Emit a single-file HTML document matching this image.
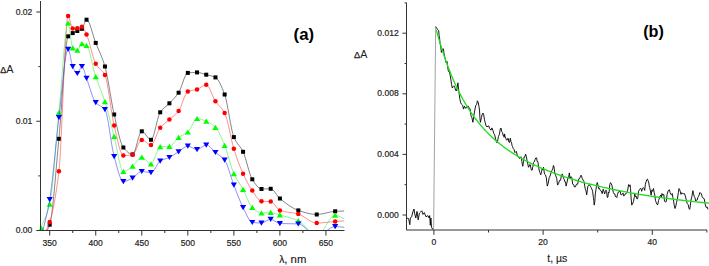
<!DOCTYPE html>
<html><head><meta charset="utf-8"><style>
html,body{margin:0;padding:0;background:#fff;}
body{width:709px;height:266px;overflow:hidden;font-family:"Liberation Sans",sans-serif;}
svg{display:block;}
</style></head><body>
<svg width="709" height="266" viewBox="0 0 709 266">
<defs><clipPath id="cl"><rect x="40.5" y="0" width="304" height="230.5"/></clipPath><clipPath id="cr"><rect x="406.5" y="0" width="303" height="230"/></clipPath></defs>
<path d="M40.49,240.00C43.56,234.90 46.63,233.36 49.70,224.70C52.77,216.04 55.84,169.96 58.91,138.80C61.98,107.64 65.05,39.96 68.12,36.30C69.65,34.47 71.19,33.95 72.72,33.10C74.25,32.25 75.79,31.72 77.32,31.00C78.86,30.28 80.39,29.98 81.93,28.80C83.46,27.62 85.00,19.70 86.53,19.70C89.60,19.70 92.67,35.10 95.74,42.90C98.81,50.70 101.88,55.95 104.95,66.50C108.02,77.05 111.09,101.46 114.16,114.50C117.23,127.54 120.29,143.70 123.36,147.50C126.43,151.30 129.50,154.40 132.57,154.40C135.64,154.40 138.71,131.30 141.78,131.30C144.85,131.30 147.92,139.80 150.99,139.80C154.06,139.80 157.13,116.82 160.20,112.30C163.27,107.78 166.33,106.54 169.40,103.30C172.47,100.06 175.54,97.30 178.61,92.70C181.68,88.10 184.75,73.23 187.82,72.90C190.89,72.57 193.96,72.40 197.03,72.40C200.10,72.40 203.17,73.87 206.24,74.70C209.31,75.53 212.37,75.85 215.44,77.40C218.51,78.95 221.58,86.37 224.65,94.50C227.72,102.63 230.79,129.81 233.86,137.10C236.93,144.39 240.00,145.41 243.07,151.80C246.14,158.19 249.21,174.52 252.28,179.30C255.35,184.08 258.41,189.00 261.48,189.00C264.55,189.00 267.62,188.80 270.69,188.80C273.76,188.80 276.83,195.97 279.90,198.50C286.04,203.55 292.18,208.37 298.32,210.40C304.45,212.43 310.59,214.50 316.73,214.50C322.87,214.50 329.01,211.61 335.15,211.30C338.22,211.14 341.29,211.10 344.36,211.00" fill="none" stroke="#333" stroke-width="0.75" stroke-opacity="0.8" clip-path="url(#cl)"/>
<rect x="47.70" y="222.70" width="4.0" height="4.0" fill="#000"/>
<rect x="56.91" y="136.80" width="4.0" height="4.0" fill="#000"/>
<rect x="66.12" y="34.30" width="4.0" height="4.0" fill="#000"/>
<rect x="70.72" y="31.10" width="4.0" height="4.0" fill="#000"/>
<rect x="75.32" y="29.00" width="4.0" height="4.0" fill="#000"/>
<rect x="79.93" y="26.80" width="4.0" height="4.0" fill="#000"/>
<rect x="84.53" y="17.70" width="4.0" height="4.0" fill="#000"/>
<rect x="93.74" y="40.90" width="4.0" height="4.0" fill="#000"/>
<rect x="102.95" y="64.50" width="4.0" height="4.0" fill="#000"/>
<rect x="112.16" y="112.50" width="4.0" height="4.0" fill="#000"/>
<rect x="121.36" y="145.50" width="4.0" height="4.0" fill="#000"/>
<rect x="130.57" y="152.40" width="4.0" height="4.0" fill="#000"/>
<rect x="139.78" y="129.30" width="4.0" height="4.0" fill="#000"/>
<rect x="148.99" y="137.80" width="4.0" height="4.0" fill="#000"/>
<rect x="158.20" y="110.30" width="4.0" height="4.0" fill="#000"/>
<rect x="167.40" y="101.30" width="4.0" height="4.0" fill="#000"/>
<rect x="176.61" y="90.70" width="4.0" height="4.0" fill="#000"/>
<rect x="185.82" y="70.90" width="4.0" height="4.0" fill="#000"/>
<rect x="195.03" y="70.40" width="4.0" height="4.0" fill="#000"/>
<rect x="204.24" y="72.70" width="4.0" height="4.0" fill="#000"/>
<rect x="213.44" y="75.40" width="4.0" height="4.0" fill="#000"/>
<rect x="222.65" y="92.50" width="4.0" height="4.0" fill="#000"/>
<rect x="231.86" y="135.10" width="4.0" height="4.0" fill="#000"/>
<rect x="241.07" y="149.80" width="4.0" height="4.0" fill="#000"/>
<rect x="250.28" y="177.30" width="4.0" height="4.0" fill="#000"/>
<rect x="259.48" y="187.00" width="4.0" height="4.0" fill="#000"/>
<rect x="268.69" y="186.80" width="4.0" height="4.0" fill="#000"/>
<rect x="277.90" y="196.50" width="4.0" height="4.0" fill="#000"/>
<rect x="296.32" y="208.40" width="4.0" height="4.0" fill="#000"/>
<rect x="314.73" y="212.50" width="4.0" height="4.0" fill="#000"/>
<rect x="333.15" y="209.30" width="4.0" height="4.0" fill="#000"/>
<path d="M40.49,240.00C43.56,234.00 46.63,230.86 49.70,222.00C52.77,213.14 55.84,196.78 58.91,171.30C61.98,145.82 65.05,16.00 68.12,16.00C69.65,16.00 71.19,28.60 72.72,28.60C74.25,28.60 75.79,28.47 77.32,28.30C78.86,28.13 80.39,26.70 81.93,26.70C83.46,26.70 85.00,31.22 86.53,34.50C89.60,41.06 92.67,58.36 95.74,63.80C98.81,69.24 101.88,68.94 104.95,75.10C108.02,81.26 111.09,113.05 114.16,125.60C117.23,138.15 120.29,155.60 123.36,155.60C126.43,155.60 129.50,155.27 132.57,154.70C135.64,154.13 138.71,139.90 141.78,139.90C144.85,139.90 147.92,145.00 150.99,145.00C154.06,145.00 157.13,131.41 160.20,127.70C163.27,123.99 166.33,122.28 169.40,119.50C172.47,116.72 175.54,114.94 178.61,111.00C181.68,107.06 184.75,92.92 187.82,91.60C190.89,90.28 193.96,90.39 197.03,89.40C200.10,88.41 203.17,84.80 206.24,84.80C209.31,84.80 212.37,96.76 215.44,101.30C218.51,105.84 221.58,107.06 224.65,112.90C227.72,118.74 230.79,139.00 233.86,148.80C236.93,158.60 240.00,167.01 243.07,173.70C246.14,180.39 249.21,186.12 252.28,190.50C255.35,194.88 258.41,201.17 261.48,201.30C264.55,201.43 267.62,201.37 270.69,201.50C273.76,201.63 276.83,209.30 279.90,210.40C286.04,212.60 292.18,212.35 298.32,214.10C304.45,215.85 310.59,223.10 316.73,223.10C322.87,223.10 329.01,221.95 335.15,221.50C338.22,221.28 341.29,221.10 344.36,220.90" fill="none" stroke="#f44" stroke-width="0.75" stroke-opacity="0.8" clip-path="url(#cl)"/>
<circle cx="49.70" cy="222.00" r="2.25" fill="#f00"/>
<circle cx="58.91" cy="171.30" r="2.25" fill="#f00"/>
<circle cx="68.12" cy="16.00" r="2.25" fill="#f00"/>
<circle cx="72.72" cy="28.60" r="2.25" fill="#f00"/>
<circle cx="77.32" cy="28.30" r="2.25" fill="#f00"/>
<circle cx="81.93" cy="26.70" r="2.25" fill="#f00"/>
<circle cx="86.53" cy="34.50" r="2.25" fill="#f00"/>
<circle cx="95.74" cy="63.80" r="2.25" fill="#f00"/>
<circle cx="104.95" cy="75.10" r="2.25" fill="#f00"/>
<circle cx="114.16" cy="125.60" r="2.25" fill="#f00"/>
<circle cx="123.36" cy="155.60" r="2.25" fill="#f00"/>
<circle cx="132.57" cy="154.70" r="2.25" fill="#f00"/>
<circle cx="141.78" cy="139.90" r="2.25" fill="#f00"/>
<circle cx="150.99" cy="145.00" r="2.25" fill="#f00"/>
<circle cx="160.20" cy="127.70" r="2.25" fill="#f00"/>
<circle cx="169.40" cy="119.50" r="2.25" fill="#f00"/>
<circle cx="178.61" cy="111.00" r="2.25" fill="#f00"/>
<circle cx="187.82" cy="91.60" r="2.25" fill="#f00"/>
<circle cx="197.03" cy="89.40" r="2.25" fill="#f00"/>
<circle cx="206.24" cy="84.80" r="2.25" fill="#f00"/>
<circle cx="215.44" cy="101.30" r="2.25" fill="#f00"/>
<circle cx="224.65" cy="112.90" r="2.25" fill="#f00"/>
<circle cx="233.86" cy="148.80" r="2.25" fill="#f00"/>
<circle cx="243.07" cy="173.70" r="2.25" fill="#f00"/>
<circle cx="252.28" cy="190.50" r="2.25" fill="#f00"/>
<circle cx="261.48" cy="201.30" r="2.25" fill="#f00"/>
<circle cx="270.69" cy="201.50" r="2.25" fill="#f00"/>
<circle cx="279.90" cy="210.40" r="2.25" fill="#f00"/>
<circle cx="298.32" cy="214.10" r="2.25" fill="#f00"/>
<circle cx="316.73" cy="223.10" r="2.25" fill="#f00"/>
<circle cx="335.15" cy="221.50" r="2.25" fill="#f00"/>
<path d="M40.49,228.50C43.56,220.40 46.63,217.00 49.70,204.20C52.77,191.40 55.84,142.78 58.91,112.60C61.98,82.42 65.05,23.10 68.12,23.10C69.65,23.10 71.19,46.65 72.72,48.00C74.25,49.35 75.79,50.20 77.32,50.20C78.86,50.20 80.39,43.80 81.93,43.80C83.46,43.80 85.00,44.61 86.53,45.60C89.60,47.58 92.67,67.46 95.74,76.70C98.81,85.94 101.88,92.00 104.95,101.70C108.02,111.40 111.09,124.85 114.16,136.50C117.23,148.15 120.29,171.60 123.36,171.60C126.43,171.60 129.50,168.44 132.57,166.20C135.64,163.96 138.71,157.30 141.78,157.30C144.85,157.30 147.92,164.00 150.99,164.00C154.06,164.00 157.13,147.00 160.20,146.80C163.27,146.60 166.33,146.69 169.40,146.50C172.47,146.31 175.54,139.75 178.61,137.50C181.68,135.25 184.75,134.67 187.82,132.10C190.89,129.53 193.96,118.60 197.03,118.60C200.10,118.60 203.17,120.05 206.24,121.30C209.31,122.55 212.37,124.36 215.44,127.40C218.51,130.44 221.58,138.07 224.65,145.40C227.72,152.73 230.79,166.97 233.86,173.70C236.93,180.43 240.00,183.80 243.07,189.40C246.14,195.00 249.21,204.65 252.28,207.50C255.35,210.35 258.41,213.10 261.48,213.10C264.55,213.10 267.62,212.50 270.69,212.50C273.76,212.50 276.83,214.12 279.90,215.00C286.04,216.76 292.18,217.93 298.32,220.70C304.45,223.47 310.59,236.00 316.73,236.00C322.87,236.00 329.01,215.20 335.15,215.20C338.22,215.20 341.29,217.73 344.36,219.00" fill="none" stroke="#4e4" stroke-width="0.75" stroke-opacity="0.8" clip-path="url(#cl)"/>
<path d="M41.60,225.80L44.70,231.00L38.50,231.00Z" fill="#0f0"/>
<path d="M49.70,201.50L52.80,206.70L46.60,206.70Z" fill="#0f0"/>
<path d="M58.91,109.90L62.01,115.10L55.81,115.10Z" fill="#0f0"/>
<path d="M68.12,20.40L71.22,25.60L65.02,25.60Z" fill="#0f0"/>
<path d="M72.72,45.30L75.82,50.50L69.62,50.50Z" fill="#0f0"/>
<path d="M77.32,47.50L80.42,52.70L74.22,52.70Z" fill="#0f0"/>
<path d="M81.93,41.10L85.03,46.30L78.83,46.30Z" fill="#0f0"/>
<path d="M86.53,42.90L89.63,48.10L83.43,48.10Z" fill="#0f0"/>
<path d="M95.74,74.00L98.84,79.20L92.64,79.20Z" fill="#0f0"/>
<path d="M104.95,99.00L108.05,104.20L101.85,104.20Z" fill="#0f0"/>
<path d="M114.16,133.80L117.26,139.00L111.06,139.00Z" fill="#0f0"/>
<path d="M123.36,168.90L126.46,174.10L120.26,174.10Z" fill="#0f0"/>
<path d="M132.57,163.50L135.67,168.70L129.47,168.70Z" fill="#0f0"/>
<path d="M141.78,154.60L144.88,159.80L138.68,159.80Z" fill="#0f0"/>
<path d="M150.99,161.30L154.09,166.50L147.89,166.50Z" fill="#0f0"/>
<path d="M160.20,144.10L163.30,149.30L157.10,149.30Z" fill="#0f0"/>
<path d="M169.40,143.80L172.50,149.00L166.30,149.00Z" fill="#0f0"/>
<path d="M178.61,134.80L181.71,140.00L175.51,140.00Z" fill="#0f0"/>
<path d="M187.82,129.40L190.92,134.60L184.72,134.60Z" fill="#0f0"/>
<path d="M197.03,115.90L200.13,121.10L193.93,121.10Z" fill="#0f0"/>
<path d="M206.24,118.60L209.34,123.80L203.14,123.80Z" fill="#0f0"/>
<path d="M215.44,124.70L218.54,129.90L212.34,129.90Z" fill="#0f0"/>
<path d="M224.65,142.70L227.75,147.90L221.55,147.90Z" fill="#0f0"/>
<path d="M233.86,171.00L236.96,176.20L230.76,176.20Z" fill="#0f0"/>
<path d="M243.07,186.70L246.17,191.90L239.97,191.90Z" fill="#0f0"/>
<path d="M252.28,204.80L255.38,210.00L249.18,210.00Z" fill="#0f0"/>
<path d="M261.48,210.40L264.58,215.60L258.38,215.60Z" fill="#0f0"/>
<path d="M270.69,209.80L273.79,215.00L267.59,215.00Z" fill="#0f0"/>
<path d="M279.90,212.30L283.00,217.50L276.80,217.50Z" fill="#0f0"/>
<path d="M298.32,218.00L301.42,223.20L295.22,223.20Z" fill="#0f0"/>
<path d="M335.15,212.50L338.25,217.70L332.05,217.70Z" fill="#0f0"/>
<path d="M40.49,240.00C43.56,226.53 46.63,217.64 49.70,199.60C52.77,181.56 55.84,142.46 58.91,117.60C61.98,92.74 65.05,49.20 68.12,49.20C69.65,49.20 71.19,63.34 72.72,66.60C74.25,69.86 75.79,73.40 77.32,73.40C78.86,73.40 80.39,66.40 81.93,66.40C83.46,66.40 85.00,74.30 86.53,78.30C89.60,86.31 92.67,98.98 95.74,102.60C98.81,106.22 101.88,105.54 104.95,109.60C108.02,113.66 111.09,145.60 114.16,156.50C117.23,167.40 120.29,181.60 123.36,181.60C126.43,181.60 129.50,179.55 132.57,178.00C135.64,176.45 138.71,171.40 141.78,171.40C144.85,171.40 147.92,172.60 150.99,172.60C154.06,172.60 157.13,162.83 160.20,161.00C163.27,159.17 166.33,158.87 169.40,157.40C172.47,155.93 175.54,153.58 178.61,151.70C181.68,149.82 184.75,146.10 187.82,146.10C190.89,146.10 193.96,149.50 197.03,149.50C200.10,149.50 203.17,145.00 206.24,145.00C209.31,145.00 212.37,149.88 215.44,152.40C218.51,154.92 221.58,156.18 224.65,160.10C227.72,164.02 230.79,177.22 233.86,185.10C236.93,192.98 240.00,201.53 243.07,207.50C246.14,213.47 249.21,222.02 252.28,222.40C255.35,222.78 258.41,223.00 261.48,223.00C264.55,223.00 267.62,219.30 270.69,219.30C273.76,219.30 276.83,223.36 279.90,223.50C286.04,223.78 292.18,223.64 298.32,223.90C304.45,224.16 310.59,236.00 316.73,236.00C322.87,236.00 329.01,226.60 335.15,226.60C338.22,226.60 341.29,227.07 344.36,227.30" fill="none" stroke="#44f" stroke-width="0.75" stroke-opacity="0.8" clip-path="url(#cl)"/>
<path d="M49.70,202.30L52.80,197.10L46.60,197.10Z" fill="#00f"/>
<path d="M58.91,120.30L62.01,115.10L55.81,115.10Z" fill="#00f"/>
<path d="M68.12,51.90L71.22,46.70L65.02,46.70Z" fill="#00f"/>
<path d="M72.72,69.30L75.82,64.10L69.62,64.10Z" fill="#00f"/>
<path d="M77.32,76.10L80.42,70.90L74.22,70.90Z" fill="#00f"/>
<path d="M81.93,69.10L85.03,63.90L78.83,63.90Z" fill="#00f"/>
<path d="M86.53,81.00L89.63,75.80L83.43,75.80Z" fill="#00f"/>
<path d="M95.74,105.30L98.84,100.10L92.64,100.10Z" fill="#00f"/>
<path d="M104.95,112.30L108.05,107.10L101.85,107.10Z" fill="#00f"/>
<path d="M114.16,159.20L117.26,154.00L111.06,154.00Z" fill="#00f"/>
<path d="M123.36,184.30L126.46,179.10L120.26,179.10Z" fill="#00f"/>
<path d="M132.57,180.70L135.67,175.50L129.47,175.50Z" fill="#00f"/>
<path d="M141.78,174.10L144.88,168.90L138.68,168.90Z" fill="#00f"/>
<path d="M150.99,175.30L154.09,170.10L147.89,170.10Z" fill="#00f"/>
<path d="M160.20,163.70L163.30,158.50L157.10,158.50Z" fill="#00f"/>
<path d="M169.40,160.10L172.50,154.90L166.30,154.90Z" fill="#00f"/>
<path d="M178.61,154.40L181.71,149.20L175.51,149.20Z" fill="#00f"/>
<path d="M187.82,148.80L190.92,143.60L184.72,143.60Z" fill="#00f"/>
<path d="M197.03,152.20L200.13,147.00L193.93,147.00Z" fill="#00f"/>
<path d="M206.24,147.70L209.34,142.50L203.14,142.50Z" fill="#00f"/>
<path d="M215.44,155.10L218.54,149.90L212.34,149.90Z" fill="#00f"/>
<path d="M224.65,162.80L227.75,157.60L221.55,157.60Z" fill="#00f"/>
<path d="M233.86,187.80L236.96,182.60L230.76,182.60Z" fill="#00f"/>
<path d="M243.07,210.20L246.17,205.00L239.97,205.00Z" fill="#00f"/>
<path d="M252.28,225.10L255.38,219.90L249.18,219.90Z" fill="#00f"/>
<path d="M261.48,225.70L264.58,220.50L258.38,220.50Z" fill="#00f"/>
<path d="M270.69,222.00L273.79,216.80L267.59,216.80Z" fill="#00f"/>
<path d="M279.90,226.20L283.00,221.00L276.80,221.00Z" fill="#00f"/>
<path d="M298.32,226.60L301.42,221.40L295.22,221.40Z" fill="#00f"/>
<path d="M335.15,229.30L338.25,224.10L332.05,224.10Z" fill="#00f"/>
<g stroke="#333" stroke-width="1" fill="none">
<path d="M40.5,1V230.5H344.5"/>
<path d="M36.3,230.50H40.5"/>
<path d="M36.3,121.25H40.5"/>
<path d="M36.3,12.00H40.5"/>
<path d="M38.3,175.88H40.5"/>
<path d="M38.3,66.62H40.5"/>
<path d="M49.70,230.5V235.6"/>
<path d="M95.74,230.5V235.6"/>
<path d="M141.78,230.5V235.6"/>
<path d="M187.82,230.5V235.6"/>
<path d="M233.86,230.5V235.6"/>
<path d="M279.90,230.5V235.6"/>
<path d="M325.94,230.5V235.6"/>
<path d="M72.72,230.5V233"/>
<path d="M118.76,230.5V233"/>
<path d="M164.80,230.5V233"/>
<path d="M210.84,230.5V233"/>
<path d="M256.88,230.5V233"/>
<path d="M302.92,230.5V233"/>
</g>
<g font-family="Liberation Sans, sans-serif" font-size="9" fill="#222" stroke="#222" stroke-width="0.2">
<text transform="translate(32.3,233.10) scale(0.95,1)" text-anchor="end">0.00</text>
<text transform="translate(32.3,123.85) scale(0.95,1)" text-anchor="end">0.01</text>
<text transform="translate(32.3,14.60) scale(0.95,1)" text-anchor="end">0.02</text>
<text transform="translate(49.70,245.5) scale(0.95,1)" text-anchor="middle">350</text>
<text transform="translate(95.74,245.5) scale(0.95,1)" text-anchor="middle">400</text>
<text transform="translate(141.78,245.5) scale(0.95,1)" text-anchor="middle">450</text>
<text transform="translate(187.82,245.5) scale(0.95,1)" text-anchor="middle">500</text>
<text transform="translate(233.86,245.5) scale(0.95,1)" text-anchor="middle">550</text>
<text transform="translate(279.90,245.5) scale(0.95,1)" text-anchor="middle">600</text>
<text transform="translate(325.94,245.5) scale(0.95,1)" text-anchor="middle">650</text>
</g>
<text x="279.2" y="263.4" font-family="Liberation Sans, sans-serif" font-size="11.3" fill="#222" stroke="#222" stroke-width="0.15"><tspan font-size="10.3">λ</tspan>, nm</text>
<text x="0.2" y="72.8" font-family="Liberation Sans, sans-serif" font-size="10.9" fill="#222"><tspan font-size="9" stroke="#222" stroke-width="0.25">Δ</tspan>A</text>
<text x="293.6" y="40.1" font-family="Liberation Sans, sans-serif" font-size="16.8" font-weight="bold" fill="#000">(a)</text>
<path d="M406.8,218.0 L408.6,218.6 L409.8,224.7 L410.4,218.0 L411.6,216.8 L412.8,212.0 L414.0,209.0 L414.6,213.2 L415.8,218.0 L417.0,211.4 L418.2,219.9 L419.4,213.2 L420.6,212.0 L421.8,210.8 L423.0,214.4 L424.3,212.6 L426.0,216.8 L427.9,215.6 L429.1,218.0 L429.7,215.6 L430.3,225.3 L430.9,218.0 L431.5,227.1 L432.4,228.9 L433.6,229.4" fill="none" stroke="#000" stroke-width="0.9"/>
<path d="M433.6,229.4L435.7,26.6" fill="none" stroke="#999" stroke-width="0.9"/>
<path d="M435.7,26.6 L436.4,27.5 L437.5,29.5 L438.1,30.1 L438.7,30.5 L439.1,36.1 L439.5,37.0 L440.0,43.1 L440.5,45.0 L440.9,47.8 L441.4,52.4 L441.9,50.7 L442.3,50.0 L442.9,48.6 L443.5,49.0 L443.9,53.0 L444.3,55.0 L444.9,57.4 L445.5,60.0 L446.0,62.8 L446.5,63.0 L447.0,61.4 L447.5,66.0 L448.4,71.4 L449.3,71.5 L450.1,75.1 L450.8,79.0 L451.6,84.7 L452.3,88.0 L453.1,86.7 L453.8,85.8 L454.4,86.3 L455.0,88.0 L455.6,90.3 L456.3,91.0 L457.1,88.3 L457.9,82.8 L458.4,86.7 L458.8,91.3 L459.3,94.8 L459.8,98.8 L460.7,102.8 L461.6,104.4 L462.6,105.3 L463.5,109.1 L464.4,106.1 L465.4,108.2 L466.4,107.9 L467.3,106.3 L468.2,106.1 L469.2,108.2 L470.1,108.7 L471.0,115.7 L471.9,117.6 L472.9,122.3 L473.9,115.4 L474.8,110.0 L475.8,105.2 L476.7,104.4 L477.4,100.8 L478.2,102.2 L478.9,106.2 L479.5,110.0 L479.9,117.7 L480.4,122.3 L481.4,117.7 L482.3,113.8 L483.0,113.0 L483.7,114.8 L484.4,119.2 L485.1,122.3 L486.1,125.9 L487.0,127.0 L487.9,126.0 L488.9,126.0 L489.5,128.4 L490.2,129.0 L491.0,130.2 L491.9,127.9 L492.9,130.3 L493.8,133.5 L494.7,134.9 L495.6,139.1 L496.4,141.6 L497.1,142.9 L497.8,140.0 L498.5,136.3 L499.4,134.4 L500.3,128.8 L501.0,128.0 L501.7,131.6 L502.4,132.4 L503.2,135.4 L503.6,134.9 L504.1,137.3 L504.6,133.9 L505.0,136.3 L505.8,138.4 L506.5,140.1 L507.2,140.0 L507.9,138.2 L508.4,138.8 L508.8,142.0 L509.6,142.5 L510.3,138.2 L511.0,141.9 L511.6,142.9 L512.1,145.9 L512.6,146.7 L513.4,148.8 L514.1,149.5 L514.8,152.5 L515.4,152.3 L516.3,151.4 L517.3,155.1 L518.2,157.1 L519.1,157.0 L519.5,158.5 L520.0,157.9 L521.0,156.7 L521.9,161.6 L522.3,164.5 L522.8,166.3 L523.5,161.2 L524.1,156.9 L524.9,156.8 L525.6,154.1 L526.4,156.7 L527.1,160.7 L527.8,164.0 L528.5,167.3 L529.1,166.4 L529.8,164.4 L530.3,164.8 L530.9,168.2 L531.5,170.2 L532.2,170.1 L532.9,166.2 L533.5,162.6 L534.2,162.0 L535.0,159.7 L535.8,157.9 L536.6,157.9 L537.2,161.6 L537.9,161.6 L538.6,167.3 L539.4,171.0 L540.0,172.6 L540.7,174.8 L541.5,172.6 L542.2,168.2 L542.9,169.9 L543.5,167.3 L544.5,174.1 L545.4,174.8 L546.3,177.8 L547.3,186.1 L548.2,183.4 L549.2,177.6 L550.1,176.0 L551.0,172.9 L552.0,170.4 L552.9,168.2 L553.4,165.5 L553.9,166.3 L554.8,173.1 L555.7,175.7 L556.7,178.3 L557.6,185.1 L558.5,183.7 L559.5,180.4 L560.5,180.3 L561.4,175.7 L562.3,173.9 L563.3,177.6 L564.2,179.4 L565.1,182.3 L565.6,182.0 L566.1,186.1 L567.0,182.3 L568.0,177.6 L568.6,177.8 L569.3,172.9 L570.0,178.2 L570.8,176.7 L571.8,177.4 L572.7,184.2 L573.6,184.6 L574.5,187.0 L575.5,186.8 L576.4,184.2 L577.6,184.2 L578.8,178.8 L579.5,178.6 L580.3,176.9 L581.0,175.2 L581.6,176.0 L582.0,177.9 L582.5,178.8 L583.2,180.2 L584.0,181.6 L584.6,185.1 L585.3,189.2 L586.0,190.8 L586.7,194.8 L587.2,191.2 L587.8,186.3 L588.5,185.9 L589.1,184.5 L589.8,185.2 L590.4,186.3 L591.1,187.4 L591.9,189.2 L592.6,191.2 L593.4,197.6 L593.8,200.5 L594.2,205.1 L594.8,201.6 L595.3,193.9 L596.0,189.3 L596.6,185.4 L597.2,182.5 L597.9,184.5 L598.6,188.6 L599.4,188.2 L600.3,190.5 L601.3,191.0 L602.2,193.7 L603.2,189.2 L604.0,191.7 L604.7,193.9 L605.4,191.2 L606.0,190.1 L606.6,191.4 L607.3,197.6 L607.9,197.1 L608.5,192.0 L609.1,192.6 L609.8,184.5 L610.5,182.6 L611.1,183.5 L611.9,185.2 L612.6,189.2 L613.4,192.6 L614.1,193.9 L614.8,193.9 L615.4,196.7 L616.1,196.7 L616.8,197.6 L617.5,194.2 L618.3,192.0 L619.2,191.8 L620.1,191.0 L620.9,194.8 L621.6,194.8 L622.3,193.9 L623.0,192.9 L623.6,195.9 L624.3,195.7 L625.0,194.1 L625.8,193.9 L626.8,192.6 L627.7,190.1 L628.6,184.6 L629.5,186.3 L630.0,184.8 L630.5,188.2 L631.1,198.0 L631.8,205.1 L632.3,203.2 L632.9,203.3 L633.5,201.4 L634.2,197.6 L634.5,196.3 L634.7,193.2 L635.4,196.8 L636.0,196.0 L636.8,198.8 L637.5,198.9 L638.0,196.8 L638.5,191.3 L639.4,189.7 L640.3,188.5 L641.0,188.7 L641.7,191.3 L642.5,188.2 L643.2,187.6 L644.0,188.2 L644.7,190.4 L645.4,184.2 L646.0,181.9 L646.8,179.6 L647.5,179.1 L648.1,180.8 L648.8,182.9 L649.2,185.7 L649.7,187.6 L650.4,190.8 L651.1,195.1 L651.9,189.9 L652.6,191.3 L653.0,189.8 L653.5,188.5 L654.1,192.2 L654.8,195.1 L655.5,200.7 L656.3,202.6 L657.0,204.5 L657.8,204.5 L658.5,200.6 L659.2,198.9 L660.1,195.8 L661.0,195.1 L661.5,197.7 L661.9,193.5 L662.8,195.2 L663.8,194.4 L664.5,201.3 L665.3,201.9 L666.2,201.8 L667.1,194.4 L668.2,190.7 L669.4,189.7 L670.1,192.7 L670.9,194.4 L671.5,194.7 L672.2,193.5 L672.9,197.7 L673.5,200.0 L674.2,205.2 L675.0,208.5 L675.8,206.0 L676.5,202.9 L677.5,198.0 L678.4,192.5 L679.0,188.5 L679.7,189.7 L680.4,191.8 L681.0,194.4 L681.8,192.7 L682.5,193.5 L683.5,193.7 L684.4,193.5 L685.3,196.0 L686.3,200.0 L687.2,203.4 L688.2,204.7 L689.0,208.4 L689.7,209.4 L690.4,205.2 L691.0,200.0 L692.0,195.9 L692.9,190.7 L693.5,193.7 L694.2,196.3 L695.0,197.9 L695.7,201.0 L696.5,200.2 L697.2,200.0 L697.9,197.3 L698.5,196.3 L699.1,195.1 L699.8,192.5 L700.5,193.0 L701.3,193.5 L702.2,196.8 L703.2,198.2 L704.2,198.7 L705.1,203.8 L706.0,207.2 L706.9,207.5 L707.4,207.2 L707.9,209.4" fill="none" stroke="#000" stroke-width="0.9"/>
<path d="M436.36,30.03 L437.28,33.40 L438.20,36.68 L439.13,39.88 L440.05,42.99 L440.97,46.02 L441.90,48.97 L442.82,51.85 L443.74,54.65 L444.66,57.38 L445.59,60.03 L446.51,62.63 L447.43,65.15 L448.36,67.61 L449.28,70.01 L450.20,72.35 L451.13,74.63 L452.05,76.86 L452.97,79.03 L453.90,81.15 L454.82,83.21 L455.74,85.23 L456.66,87.20 L457.59,89.12 L458.51,90.99 L459.43,92.82 L460.36,94.61 L461.28,96.36 L462.20,98.06 L463.13,99.73 L464.05,101.36 L464.97,102.95 L465.90,104.50 L466.82,106.02 L467.74,107.51 L468.67,108.96 L469.59,110.38 L470.51,111.77 L471.43,113.13 L472.36,114.46 L473.28,115.76 L474.20,117.04 L475.13,118.28 L476.05,119.50 L476.97,120.70 L477.90,121.87 L478.82,123.02 L479.74,124.14 L480.67,125.24 L481.59,126.32 L482.51,127.38 L483.43,128.41 L484.36,129.43 L485.28,130.43 L486.20,131.40 L487.13,132.36 L488.05,133.30 L488.97,134.22 L489.90,135.13 L490.82,136.02 L491.74,136.89 L492.67,137.75 L493.59,138.59 L494.51,139.42 L495.43,140.23 L496.36,141.02 L497.28,141.81 L498.20,142.58 L499.13,143.33 L500.05,144.08 L500.97,144.81 L501.90,145.53 L502.82,146.24 L503.74,146.93 L504.67,147.62 L505.59,148.29 L506.51,148.95 L507.43,149.60 L508.36,150.25 L509.28,150.88 L510.20,151.50 L511.13,152.11 L512.05,152.72 L512.97,153.31 L513.90,153.90 L514.82,154.47 L515.74,155.04 L516.67,155.60 L517.59,156.15 L518.51,156.70 L519.43,157.24 L520.36,157.76 L521.28,158.29 L522.20,158.80 L523.13,159.31 L524.05,159.81 L524.97,160.30 L525.90,160.79 L526.82,161.27 L527.74,161.75 L528.67,162.22 L529.59,162.68 L530.51,163.14 L531.43,163.59 L532.36,164.04 L533.28,164.48 L534.20,164.91 L535.13,165.34 L536.05,165.76 L536.97,166.18 L537.90,166.60 L538.82,167.01 L539.74,167.41 L540.67,167.81 L541.59,168.21 L542.51,168.60 L543.44,168.98 L544.36,169.37 L545.28,169.74 L546.20,170.12 L547.13,170.49 L548.05,170.85 L548.97,171.21 L549.90,171.57 L550.82,171.92 L551.74,172.27 L552.67,172.62 L553.59,172.96 L554.51,173.30 L555.44,173.64 L556.36,173.97 L557.28,174.30 L558.20,174.62 L559.13,174.94 L560.05,175.26 L560.97,175.58 L561.90,175.89 L562.82,176.20 L563.74,176.51 L564.67,176.81 L565.59,177.11 L566.51,177.41 L567.44,177.70 L568.36,177.99 L569.28,178.28 L570.20,178.57 L571.13,178.85 L572.05,179.13 L572.97,179.41 L573.90,179.69 L574.82,179.96 L575.74,180.23 L576.67,180.50 L577.59,180.77 L578.51,181.03 L579.44,181.29 L580.36,181.55 L581.28,181.81 L582.20,182.06 L583.13,182.31 L584.05,182.56 L584.97,182.81 L585.90,183.06 L586.82,183.30 L587.74,183.54 L588.67,183.78 L589.59,184.02 L590.51,184.25 L591.44,184.49 L592.36,184.72 L593.28,184.95 L594.20,185.17 L595.13,185.40 L596.05,185.62 L596.97,185.84 L597.90,186.06 L598.82,186.28 L599.74,186.50 L600.67,186.71 L601.59,186.92 L602.51,187.13 L603.44,187.34 L604.36,187.55 L605.28,187.76 L606.20,187.96 L607.13,188.16 L608.05,188.36 L608.97,188.56 L609.90,188.76 L610.82,188.95 L611.74,189.15 L612.67,189.34 L613.59,189.53 L614.51,189.72 L615.44,189.91 L616.36,190.10 L617.28,190.28 L618.21,190.47 L619.13,190.65 L620.05,190.83 L620.97,191.01 L621.90,191.19 L622.82,191.36 L623.74,191.54 L624.67,191.71 L625.59,191.88 L626.51,192.05 L627.44,192.22 L628.36,192.39 L629.28,192.56 L630.21,192.73 L631.13,192.89 L632.05,193.05 L632.97,193.22 L633.90,193.38 L634.82,193.54 L635.74,193.69 L636.67,193.85 L637.59,194.01 L638.51,194.16 L639.44,194.32 L640.36,194.47 L641.28,194.62 L642.21,194.77 L643.13,194.92 L644.05,195.07 L644.97,195.21 L645.90,195.36 L646.82,195.50 L647.74,195.65 L648.67,195.79 L649.59,195.93 L650.51,196.07 L651.44,196.21 L652.36,196.35 L653.28,196.48 L654.21,196.62 L655.13,196.76 L656.05,196.89 L656.97,197.02 L657.90,197.15 L658.82,197.28 L659.74,197.41 L660.67,197.54 L661.59,197.67 L662.51,197.80 L663.44,197.93 L664.36,198.05 L665.28,198.17 L666.21,198.30 L667.13,198.42 L668.05,198.54 L668.97,198.66 L669.90,198.78 L670.82,198.90 L671.74,199.02 L672.67,199.14 L673.59,199.25 L674.51,199.37 L675.44,199.48 L676.36,199.60 L677.28,199.71 L678.21,199.82 L679.13,199.93 L680.05,200.04 L680.98,200.15 L681.90,200.26 L682.82,200.37 L683.74,200.47 L684.67,200.58 L685.59,200.69 L686.51,200.79 L687.44,200.89 L688.36,201.00 L689.28,201.10 L690.21,201.20 L691.13,201.30 L692.05,201.40 L692.98,201.50 L693.90,201.60 L694.82,201.70 L695.74,201.80 L696.67,201.89 L697.59,201.99 L698.51,202.08 L699.44,202.18 L700.36,202.27 L701.28,202.36 L702.21,202.46 L703.13,202.55 L704.05,202.64 L704.98,202.73 L705.90,202.82 L706.82,202.91 L707.74,203.00 L708.67,203.08 L709.59,203.17 L710.51,203.26 L711.44,203.34 L712.36,203.43" fill="none" stroke="#2d2" stroke-width="1.35"/>
<g stroke="#333" stroke-width="1" fill="none">
<path d="M406.5,2.7V230H707"/>
<path d="M402.5,215.00H406.5"/>
<path d="M402.5,154.40H406.5"/>
<path d="M402.5,93.80H406.5"/>
<path d="M402.5,33.20H406.5"/>
<path d="M404.5,184.70H406.5"/>
<path d="M404.5,124.10H406.5"/>
<path d="M404.5,63.50H406.5"/>
<path d="M404.5,2.90H406.5"/>
<path d="M433.90,230V234.8"/>
<path d="M543.10,230V234.8"/>
<path d="M652.30,230V234.8"/>
<path d="M488.50,230V232.5"/>
<path d="M597.70,230V232.5"/>
<path d="M706.90,230V232.5"/>
</g>
<g font-family="Liberation Sans, sans-serif" font-size="9" fill="#222" stroke="#222" stroke-width="0.2">
<text transform="translate(398.7,217.60) scale(0.95,1)" text-anchor="end">0.000</text>
<text transform="translate(398.7,157.00) scale(0.95,1)" text-anchor="end">0.004</text>
<text transform="translate(398.7,96.40) scale(0.95,1)" text-anchor="end">0.008</text>
<text transform="translate(398.7,35.80) scale(0.95,1)" text-anchor="end">0.012</text>
<text transform="translate(433.90,244.8) scale(0.95,1)" text-anchor="middle">0</text>
<text transform="translate(543.10,244.8) scale(0.95,1)" text-anchor="middle">20</text>
<text transform="translate(652.30,244.8) scale(0.95,1)" text-anchor="middle">40</text>
</g>
<text x="547.3" y="261.9" font-family="Liberation Sans, sans-serif" font-size="10.5" fill="#222" stroke="#222" stroke-width="0.15">t, µs</text>
<text x="354.0" y="57.7" font-family="Liberation Sans, sans-serif" font-size="10.7" fill="#222"><tspan font-size="9.2" stroke="#222" stroke-width="0.25">Δ</tspan>A</text>
<text x="643.2" y="36.8" font-family="Liberation Sans, sans-serif" font-size="16.2" font-weight="bold" fill="#000">(b)</text>
</svg>
</body></html>
